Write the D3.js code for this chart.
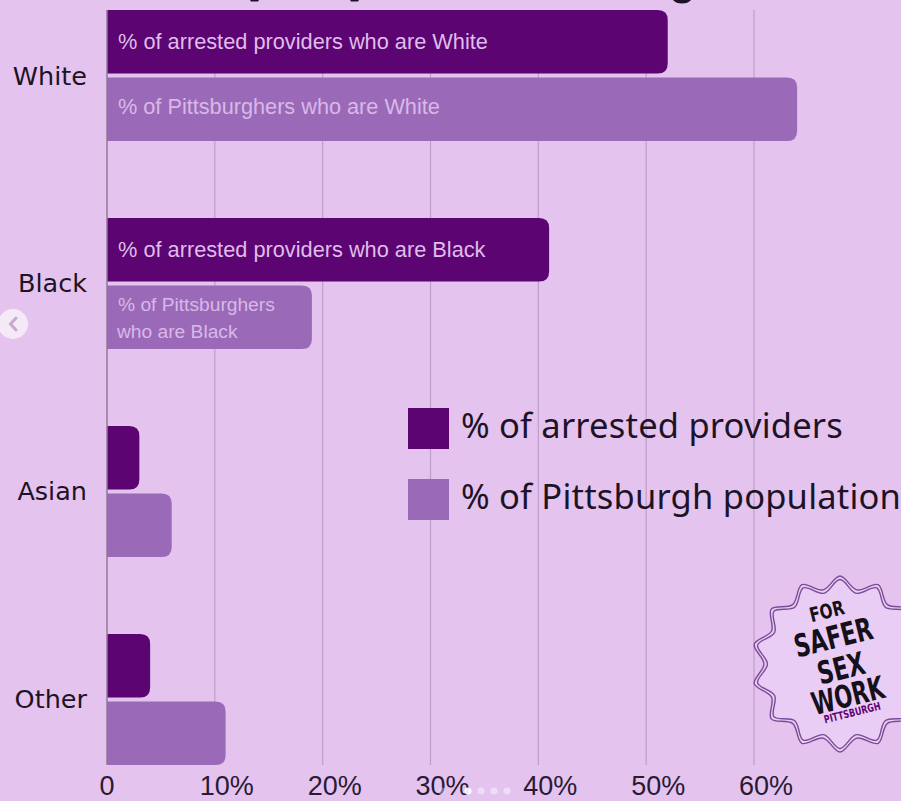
<!DOCTYPE html>
<html>
<head>
<meta charset="utf-8">
<script src="https://cdn.jsdelivr.net/npm/d3@7/dist/d3.min.js"></script>
<style>
html,body{margin:0;padding:0;background:#e5c3ef;overflow:hidden}
svg{display:block}
</style>
</head>
<body>
<svg id="chart" width="901" height="801"></svg>
<script>
const categories = ["White", "Black", "Asian", "Other"];
const arrestedPct = [52, 41, 3, 4];
const populationPct = [64, 19, 6, 11];
const tickValues = [0, 10, 20, 30, 40, 50, 60];
const tickLabels = ["0", "10%", "20%", "30%", "40%", "50%", "60%"];
const arrestedLabels = ["% of arrested providers who are White", "% of arrested providers who are Black", "", ""];
const populationLabels = [["% of Pittsburghers who are White"], ["% of Pittsburghers", "who are Black"], [], []];
const legendLabels = ["% of arrested providers", "% of Pittsburgh population"];
const badgeWords = ["FOR", "SAFER", "SEX", "WORK"];

const bg = "#e5c3ef", dark = "#5d0473", mid = "#9a6ab8";
const svg = d3.select("#chart");

const x = d3.scaleLinear().domain([0, 60]).range([107, 754]);
// Each category band holds the two bars and the gap below them
const band = d3.scaleBand().domain(categories).range([10, 842]).paddingInner(0).paddingOuter(0);
const barH = 63.5;
const offsets = [0, 67.5];

// Bottom edges of the heading's descenders, cropped by the top of the frame
svg.append("g").attr("fill", "#1d1326").selectAll("path")
  .data(["M250,0h9l-1,1.5h-7z", "M350,0h9l-1,1.5h-7z", "M673,0h18q-3,3.5 -9,3.5t-9,-3.5z"])
  .join("path").attr("d", d => d);

// Vertical gridlines
svg.append("g").selectAll("line").data(tickValues.slice(1)).join("line")
  .attr("x1", d => x(d)).attr("x2", d => x(d))
  .attr("y1", 10).attr("y2", 765)
  .attr("stroke", "#bb9fca").attr("stroke-width", 1.2);

// Bars with square left ends and rounded right ends
const roundedBar = (x0, x1, y, h, r) =>
  `M${x0},${y}H${x1 - r}Q${x1},${y} ${x1},${y + r}V${y + h - r}Q${x1},${y + h} ${x1 - r},${y + h}H${x0}Z`;

[arrestedPct, populationPct].forEach((series, s) => {
  svg.append("g").selectAll("path").data(series).join("path")
    .attr("d", (d, i) => roundedBar(x(0), x(d), band(categories[i]) + offsets[s], barH, 10))
    .attr("fill", s === 0 ? dark : mid);
});

// Baseline
svg.append("line").attr("x1", x(0)).attr("x2", x(0)).attr("y1", 10).attr("y2", 765)
  .attr("stroke", "#8d7a96").attr("stroke-width", 1.5);

// Labels inside the bars
const inBar = "'Liberation Sans', Arial, sans-serif";
svg.append("g").selectAll("text").data(arrestedLabels).join("text")
  .attr("x", 118)
  .attr("y", (d, i) => band(categories[i]) + barH / 2 + 7.5)
  .attr("font-family", inBar).attr("font-size", 21.75).attr("fill", "#dfbdea")
  .text(d => d);

populationLabels.forEach((lines, i) => {
  const top = band(categories[i]) + offsets[1];
  lines.forEach((line, j) => {
    const size = lines.length > 1 ? 19.2 : 21.7;
    const y = lines.length > 1 ? top + 25 + j * 27 : top + barH / 2 + 5;
    svg.append("text").attr("x", 118 - (lines.length > 1 ? (j ? 1 : 0) : 0)).attr("y", y)
      .attr("font-family", inBar).attr("font-size", size).attr("fill", "#d9b8e8")
      .text(line);
  });
});

// Category labels
const catY = [76, 283, 491, 699];
svg.append("g").selectAll("text").data(categories).join("text")
  .attr("x", 87).attr("y", (d, i) => catY[i] + 8.5).attr("text-anchor", "end")
  .attr("font-family", "'DejaVu Sans', sans-serif").attr("font-size", 25.5).attr("fill", "#1d1326")
  .text(d => d);

// Value axis labels sit a little to the right of their gridlines
svg.append("g").selectAll("text").data(tickValues).join("text")
  .attr("x", d => x(d) + (d === 0 ? 0 : 12)).attr("y", 795).attr("text-anchor", "middle")
  .attr("font-family", inBar).attr("font-size", 27).attr("fill", "#2a1a35")
  .text((d, i) => tickLabels[i]);

// Legend
legendLabels.forEach((label, i) => {
  const y = 408 + i * 71;
  svg.append("rect").attr("x", 408).attr("y", y).attr("width", 41).attr("height", 41)
    .attr("fill", i === 0 ? dark : mid);
  svg.append("text").attr("x", 461).attr("y", y + 30)
    .attr("font-family", "'Noto Sans', sans-serif").attr("font-size", 34.5).attr("letter-spacing", 0.2).attr("fill", "#1d1326")
    .text(label);
});

// Carousel arrow button and pager dots
svg.append("circle").attr("cx", 13).attr("cy", 324).attr("r", 15).attr("fill", "#f5e9f8");
svg.append("path").attr("d", "M16,318L10.5,324L16,330").attr("fill", "none")
  .attr("stroke", "#c7a9cf").attr("stroke-width", 3).attr("stroke-linecap", "round");
svg.append("g").selectAll("circle").data([442, 468, 481, 494, 507]).join("circle")
  .attr("cx", d => d).attr("cy", 791).attr("r", 3.6)
  .attr("fill", (d, i) => i === 1 ? "#ffffff" : "#f0dff5").attr("opacity", (d, i) => i === 0 ? 0.4 : 0.9);

// Scalloped badge with a doubled outline
const badge = svg.append("g").attr("transform", "translate(840,664)");
const seal = (r, amp, n) => d3.lineRadial().curve(d3.curveCatmullRomClosed)(
  d3.range(n * 2).map(k => [k * Math.PI / n, r + (k % 2 ? -amp : amp)]));
badge.append("path").attr("d", seal(82, 6, 14)).attr("fill", "#e9cdf5").attr("stroke", "#7c4a96").attr("stroke-width", 1.4);
badge.append("path").attr("d", seal(78.5, 6, 14)).attr("fill", "#e9cdf5").attr("stroke", "#7c4a96").attr("stroke-width", 1.4);
const words = badge.append("g").attr("transform", "rotate(-14)").attr("text-anchor", "middle")
  .attr("font-family", "'DejaVu Sans', sans-serif").attr("font-weight", 700).attr("fill", "#15101a");

// Squeeze a badge word horizontally until it is as wide as its slot
const squeezedWord = (text, baseline, size, width, fill) => {
  const node = words.append("text").attr("font-size", size).text(text);
  if (fill) node.attr("fill", fill);
  const sx = width / node.node().getComputedTextLength();
  node.attr("transform", `translate(0,${baseline}) scale(${sx},1)`);
};
const wordBaselines = [-47.5, -16.5, 15.5, 43.5];
const wordSizes = [20, 31.5, 31.5, 31.5];
const wordWidths = [35, 80, 48, 74];
badgeWords.forEach((t, i) => squeezedWord(t, wordBaselines[i], wordSizes[i], wordWidths[i]));
squeezedWord("PITTSBURGH", 54, 11, 58, dark);
</script>
</body>
</html>
